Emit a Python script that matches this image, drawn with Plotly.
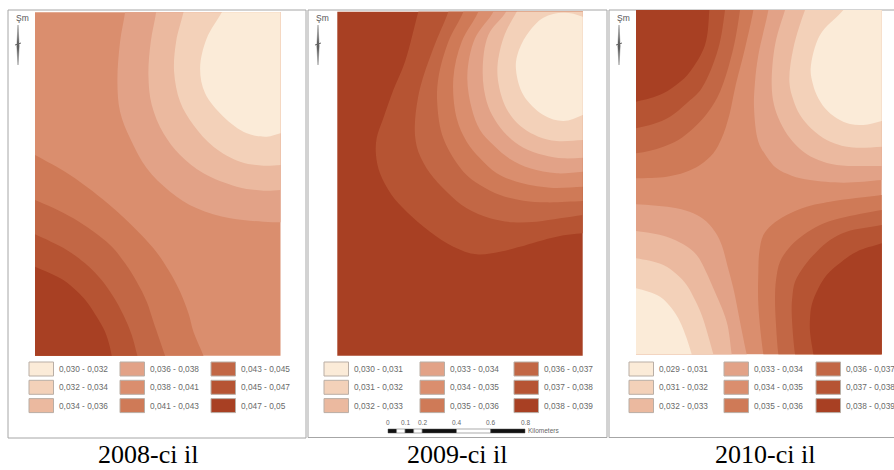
import plotly.graph_objects as go

W, H = 894, 470

COLORS = ["#FBEBD8", "#F3D1B9", "#EBB99F", "#E2A287", "#DA8E6E",
          "#CF7A57", "#C26745", "#B65433", "#A84023"]

TITLES = ["2008-ci il", "2009-ci il", "2010-ci il"]

LABELS_2008 = ["0,030 - 0,032", "0,032 - 0,034", "0,034 - 0,036",
               "0,036 - 0,038", "0,038 - 0,041", "0,041 - 0,043",
               "0,043 - 0,045", "0,045 - 0,047", "0,047 - 0,05"]
LABELS_2009 = ["0,030 - 0,031", "0,031 - 0,032", "0,032 - 0,033",
               "0,033 - 0,034", "0,034 - 0,035", "0,035 - 0,036",
               "0,036 - 0,037", "0,037 - 0,038", "0,038 - 0,039"]
LABELS_2010 = ["0,029 - 0,031", "0,031 - 0,032", "0,032 - 0,033",
               "0,033 - 0,034", "0,034 - 0,035", "0,035 - 0,036",
               "0,036 - 0,037", "0,037 - 0,038", "0,038 - 0,039"]

SCALE_TICKS = [0, 0.1, 0.2, 0.4, 0.6, 0.8]

# Isolines read from each map, in map units.  Each entry: legend class (0-8),
# the outside corner that closes the zone, and the isoline vertices.
ISO_2008 = [
    (3, "TR", [(290,-30),(285,22),(270,110),(262,230),(270,320),(300,400),(350,490),(420,560),(500,610),(600,640),(700,650),(751,652),(810,652)]),
    (2, "TR", [(382,-30),(378,22),(362,110),(355,210),(365,300),(400,385),(450,450),(520,505),(620,545),(700,557),(751,555),(810,553)]),
    (1, "TR", [(470,-30),(460,22),(438,110),(432,200),(450,290),(490,360),(550,425),(630,470),(700,482),(751,480),(810,478)]),
    (0, "TR", [(600,-30),(575,22),(530,100),(510,190),(525,265),(580,335),(650,385),(710,395),(751,385),(810,372)]),
    (5, "BL", [(-40,420),(15,450),(120,510),(250,610),(370,730),(415,795),(450,860),(475,925),(490,980),(520,1052),(540,1110)]),
    (6, "BL", [(-40,565),(15,585),(130,640),(240,720),(285,775),(320,830),(350,890),(370,950),(405,1052),(425,1110)]),
    (7, "BL", [(-40,665),(15,688),(110,735),(165,775),(210,820),(250,875),(280,930),(305,990),(322,1052),(340,1110)]),
    (8, "BL", [(-40,765),(15,785),(100,825),(140,858),(170,890),(200,935),(225,980),(238,1020),(245,1052),(255,1110)]),
]
ISO_2009 = [
    (7, "TR", [(280,-30),(265,20),(225,170),(190,255),(160,340),(140,400),(138,450),(150,505),(185,570),(230,620),(300,680),(370,725),(440,748),(510,740),(570,725),(680,695),(758,685),(815,683)]),
    (6, "TR", [(370,-30),(355,20),(310,130),(270,250),(255,350),(256,400),(265,440),(300,505),(350,560),(410,610),(480,640),(550,652),(620,650),(690,640),(758,630),(815,622)]),
    (5, "TR", [(412,-30),(400,20),(355,110),(325,220),(322,300),(340,400),(400,500),(450,540),(510,570),(580,587),(650,592),(758,588),(815,585)]),
    (4, "TR", [(458,-30),(445,20),(395,110),(370,220),(380,340),(410,410),(450,460),(500,505),(560,530),(660,548),(758,545),(815,543)]),
    (3, "TR", [(505,-30),(490,20),(435,100),(412,210),(425,310),(450,375),(490,420),(540,462),(600,490),(680,505),(758,500),(815,497)]),
    (2, "TR", [(545,-30),(528,20),(475,90),(458,200),(470,290),(495,345),(530,390),(580,428),(640,450),(700,460),(758,458),(815,455)]),
    (1, "TR", [(590,-30),(560,20),(520,100),(502,200),(520,290),(545,335),(580,370),(625,395),(680,408),(758,405),(815,400)]),
    (0, "",   [(815,70),(758,35),(700,23),(640,38),(590,90),(562,150),(558,195),(580,270),(640,330),(700,348),(758,330),(815,300)]),
]
ISO_2010 = [
    (3, "TR", [(420,-30),(415,15),(385,150),(375,230),(372,310),(385,410),(410,455),(440,490),(485,512),(540,525),(640,533),(755,525),(815,520)]),
    (2, "TR", [(480,-30),(465,15),(435,120),(425,240),(432,300),(450,350),(480,400),(520,440),(565,465),(620,480),(755,483),(815,482)]),
    (1, "TR", [(545,-30),(525,15),(490,130),(478,230),(490,285),(510,330),(545,372),(590,405),(635,422),(680,428),(755,425),(815,420)]),
    (0, "TR", [(670,-30),(640,15),(570,90),(542,190),(548,235),(560,270),(585,310),(620,340),(660,357),(700,360),(755,348),(815,325)]),
    (5, "TL", [(375,-30),(370,15),(345,130),(315,250),(298,330),(275,400),(250,445),(210,480),(165,502),(110,515),(18,520),(-40,520)]),
    (6, "TL", [(335,-30),(330,15),(310,130),(270,260),(235,320),(190,370),(145,405),(100,425),(60,437),(18,445),(-40,452)]),
    (7, "TL", [(290,-30),(285,15),(265,130),(215,250),(170,295),(120,335),(70,357),(18,370),(-40,385)]),
    (8, "TL", [(240,-30),(238,15),(225,120),(180,200),(145,235),(100,265),(60,280),(18,290),(-40,300)]),
    (5, "BR", [(815,562),(755,570),(600,590),(530,605),(470,630),(425,660),(400,690),(388,740),(385,800),(385,900),(400,1048),(410,1100)]),
    (6, "BR", [(815,605),(755,615),(630,640),(570,660),(520,690),(480,725),(450,770),(438,825),(435,880),(438,960),(445,1048),(455,1100)]),
    (7, "BR", [(815,648),(755,660),(650,680),(600,705),(560,740),(525,780),(495,830),(487,875),(485,920),(495,1048),(505,1100)]),
    (8, "BR", [(815,695),(755,715),(680,740),(635,770),(590,810),(565,850),(545,900),(540,940),(540,980),(550,1048),(558,1100)]),
    (3, "BL", [(-40,597),(18,598),(140,610),(190,625),(230,650),(258,685),(275,720),(293,785),(310,850),(330,950),(350,1048),(362,1100)]),
    (2, "BL", [(-40,675),(18,678),(110,695),(160,718),(200,750),(228,800),(250,850),(290,950),(305,1048),(312,1100)]),
    (1, "BL", [(-40,755),(18,760),(100,780),(140,808),(170,840),(195,885),(215,930),(250,1048),(262,1100)]),
    (0, "BL", [(-40,840),(18,850),(90,875),(125,910),(150,950),(170,1000),(185,1048),(200,1100)]),
]

OUT = dict(TL=(-120, -120), TR=(900, -120), BR=(900, 1200), BL=(-120, 1200))

PANELS = [
    dict(iso=ISO_2008, base=4, labels=LABELS_2008, xr=[15, 751], yr=[1052, 22],
         map=(35, 280.5, 12.3, 355.7), frame=(8, 306, 10, 438),
         sw=(29, 120, 211), north=18, title=147.5),
    dict(iso=ISO_2009, base=8, labels=LABELS_2009, xr=[22, 758], yr=[1052, 20],
         map=(337.3, 582.7, 11.7, 355.7), frame=(308, 607, 10, 437.5),
         sw=(324, 420, 514), north=318, title=457),
    dict(iso=ISO_2010, base=4, labels=LABELS_2010, xr=[18, 755], yr=[1048, 15],
         map=(636, 881.7, 10, 354.3), frame=(609, 900, 10, 437.5),
         sw=(629, 724, 816), north=619, title=765),
]

px = lambda x: x / W
py = lambda y: 1 - y / H

fig = go.Figure()
shapes, notes = [], []


def text(x, y, s, size, color, anchor="left", family="Liberation Sans"):
    notes.append(dict(x=px(x), y=py(y), xref="paper", yref="paper", text=s,
                      showarrow=False, xanchor=anchor, yanchor="middle",
                      borderpad=0, font=dict(size=size, color=color, family=family)))


def rect(x0, x1, y0, y1, fill, line=None, lw=1):
    shapes.append(dict(type="rect", xref="paper", yref="paper",
                       x0=px(x0), x1=px(x1), y0=py(y0), y1=py(y1),
                       fillcolor=fill, line=dict(color=line or fill, width=lw if line else 0)))


for i, p in enumerate(PANELS, start=1):
    x0, x1, y0, y1 = p["map"]
    xa, ya = f"x{i}", f"y{i}"
    c = list(OUT.values())
    fig.add_trace(go.Scatter(x=[q[0] for q in c] + [c[0][0]], y=[q[1] for q in c] + [c[0][1]],
                             xaxis=xa, yaxis=ya, mode="lines", fill="toself",
                             fillcolor=COLORS[p["base"]], line=dict(width=0), hoverinfo="skip"))
    for cls, corner, pts in p["iso"]:
        loop = list(pts) + ([OUT[corner]] if corner else []) + [pts[0]]
        fig.add_trace(go.Scatter(x=[q[0] for q in loop], y=[q[1] for q in loop],
                                 xaxis=xa, yaxis=ya, mode="lines", fill="toself",
                                 fillcolor=COLORS[cls], hoverinfo="skip",
                                 line=dict(width=0, shape="spline", smoothing=1.0, simplify=False)))
    suffix = "" if i == 1 else str(i)
    fig.layout[f"xaxis{suffix}"] = dict(domain=[px(x0), px(x1)], range=p["xr"], visible=False,
                                        anchor=ya, fixedrange=True)
    fig.layout[f"yaxis{suffix}"] = dict(domain=[py(y1), py(y0)], range=p["yr"], visible=False,
                                        anchor=xa, fixedrange=True)

    fx0, fx1, fy0, fy1 = p["frame"]
    shapes.append(dict(type="rect", xref="paper", yref="paper", layer="below",
                       x0=px(fx0), x1=px(fx1), y0=py(fy0), y1=py(fy1),
                       line=dict(color="#A6A6A6", width=1), fillcolor="rgba(0,0,0,0)"))

    for k, lab in enumerate(p["labels"]):
        col, row = k // 3, k % 3
        sx = p["sw"][col]
        sy = 362 + row * 18.3
        rect(sx, sx + 24.5, sy, sy + 14, COLORS[k], "#B9AEA5")
        text(sx + 29, sy + 7, lab, 8.3, "#6A6A6A")

    n = p["north"]
    text(n + 4, 18, "Şm", 8.5, "#555555", anchor="center")
    path = (f"M {px(n)} {py(25)} L {px(n + 1.2)} {py(46)} L {px(n)} {py(65)} "
            f"L {px(n - 1.2)} {py(46)} Z")
    shapes.append(dict(type="path", xref="paper", yref="paper", path=path,
                       fillcolor="#555555", line=dict(color="#888888", width=0.5)))
    shapes.append(dict(type="line", xref="paper", yref="paper", x0=px(n - 3), x1=px(n + 3),
                       y0=py(45), y1=py(43), line=dict(color="#666666", width=1)))

    text(p["title"], 454.8, TITLES[i - 1], 26, "#000000", anchor="center", family="Liberation Serif")

bx0, bx1 = 388, 525
kx = lambda v: bx0 + (bx1 - bx0) * v / SCALE_TICKS[-1]
edges = [0, 0.05, 0.1, 0.15, 0.2, 0.4, 0.6, 0.8]
for j in range(len(edges) - 1):
    fill = "#111111" if j % 2 == 0 else "#FFFFFF"
    rect(kx(edges[j]), kx(edges[j + 1]), 429, 433, fill, "#555555", 0.5)
for v in SCALE_TICKS:
    text(kx(v), 422, str(v), 6.5, "#666666", anchor="center")
text(527, 430.5, "Kilometers", 6.5, "#666666")

fig.update_layout(width=W, height=H, margin=dict(l=0, r=0, t=0, b=0, pad=0),
                  paper_bgcolor="white", plot_bgcolor="white", showlegend=False,
                  shapes=shapes, annotations=notes)
fig.write_html("out.html", config=dict(displayModeBar=False),
               post_script="document.body.style.margin='0';document.documentElement.style.overflow='hidden';")
